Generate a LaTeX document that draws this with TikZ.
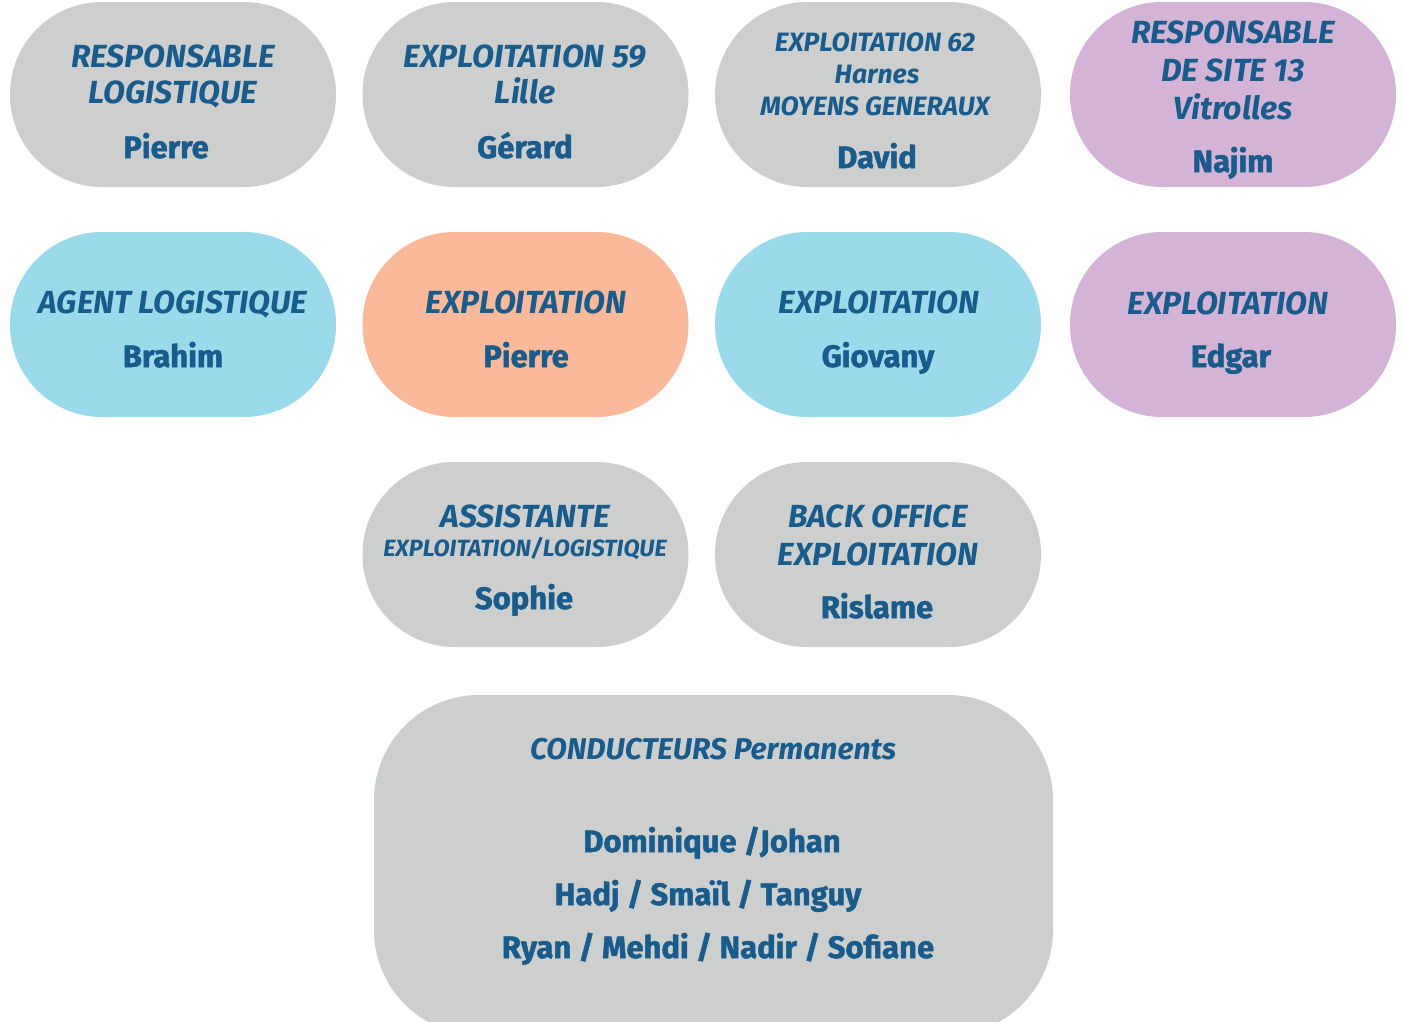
\documentclass[tikz,border=0pt]{standalone}
\usepackage{fontspec}
\setmainfont{Fira Sans}
\newfontfamily\namefont[BoldFeatures={FakeBold=1.6}]{Fira Sans}
\definecolor{boxgray}{HTML}{CDCFCF}
\definecolor{boxblue}{HTML}{9BDAEA}
\definecolor{boxorange}{HTML}{F9B99A}
\definecolor{boxpurple}{HTML}{D3B4D6}
\definecolor{txtblue}{HTML}{195B8B}
\begin{document}
\begin{tikzpicture}[x=1pt,y=-1pt,
  pill/.style={rounded corners=92pt,inner sep=0pt,minimum width=326pt,minimum height=185pt,draw=none},
  ttl/.style={text=txtblue,font=\fontsize{32}{34}\selectfont\bfseries\itshape,inner sep=0pt,anchor=base,yshift=-11pt},
  sttl/.style={text=txtblue,font=\fontsize{26.5}{28}\selectfont\bfseries\itshape,inner sep=0pt,anchor=base,yshift=-9pt},
  xsttl/.style={text=txtblue,font=\fontsize{23.5}{25}\selectfont\bfseries\itshape,inner sep=0pt,anchor=base,yshift=-8pt},
  cttl/.style={text=txtblue,font=\fontsize{30}{32}\selectfont\bfseries\itshape,inner sep=0pt,anchor=base,yshift=-10.5pt},
  nm/.style={text=txtblue,font=\fontsize{31}{33}\selectfont\namefont\bfseries,inner sep=0pt,anchor=base,yshift=-11pt}]
\useasboundingbox (0,0) rectangle (1405,1021);
% row 1
\node[pill,fill=boxgray] (b1) at (173,94.5) {};
\node[pill,fill=boxgray] (b2) at (525.5,94.5) {};
\node[pill,fill=boxgray] (b3) at (878,94.5) {};
\node[pill,fill=boxpurple] (b4) at (1233,94.5) {};
% row 2
\node[pill,fill=boxblue] (c1) at (173,324.5) {};
\node[pill,fill=boxorange] (c2) at (525.5,324.5) {};
\node[pill,fill=boxblue] (c3) at (878,324.5) {};
\node[pill,fill=boxpurple] (c4) at (1233,324.5) {};
% row 3
\node[pill,fill=boxgray] (d2) at (525.5,554.5) {};
\node[pill,fill=boxgray] (d3) at (878,554.5) {};
% big box
\node[rounded corners=105pt,inner sep=0pt,minimum width=679pt,minimum height=340pt,fill=boxgray] (e) at (713.5,865) {};

% texts row 1
\node[ttl] (b1a) at (173,56) {RESPONSABLE};
\node[ttl] (b1b) at (173,92) {LOGISTIQUE};
\node[nm] (b1c) at (166,147) {Pierre};
\node[ttl] (b2a) at (525,56) {EXPLOITATION 59};
\node[ttl] (b2b) at (525,92) {Lille};
\node[nm] (b2c) at (525,147) {Gérard};
\node[sttl] (b3a) at (875,42) {EXPLOITATION 62};
\node[sttl] (b3b) at (877,74) {Harnes};
\node[sttl] (b3c) at (875,106) {MOYENS GENERAUX};
\node[nm] (b3d) at (877,157) {David};
\node[ttl] (b4a) at (1233,32) {RESPONSABLE};
\node[ttl] (b4b) at (1233,70) {DE SITE 13};
\node[ttl] (b4c) at (1233,108) {Vitrolles};
\node[nm] (b4d) at (1233,161) {Najim};
% texts row 2
\node[ttl] (c1a) at (173,302) {AGENT LOGISTIQUE};
\node[nm] (c1b) at (173,356) {Brahim};
\node[ttl] (c2a) at (526,302) {EXPLOITATION};
\node[nm] (c2b) at (526,356) {Pierre};
\node[ttl] (c3a) at (879,302) {EXPLOITATION};
\node[nm] (c3b) at (878,356) {Giovany};
\node[ttl] (c4a) at (1228,303) {EXPLOITATION};
\node[nm] (c4b) at (1231,356) {Edgar};
% texts row 3
\node[ttl] (d2a) at (525,516) {ASSISTANTE};
\node[xsttl] (d2b) at (525,548) {EXPLOITATION/LOGISTIQUE};
\node[nm] (d2c) at (524,598) {Sophie};
\node[ttl] (d3a) at (878,516) {BACK OFFICE};
\node[ttl] (d3b) at (878,554) {EXPLOITATION};
\node[nm] (d3c) at (877,607) {Rislame};
% big box texts
\node[cttl] (ea) at (713,749) {CONDUCTEURS Permanents};
\node[nm] (eb) at (712,841) {Dominique /Johan};
\node[nm] (ec) at (708,894) {Hadj / Smaïl / Tanguy};
\node[nm] (ed) at (718,947) {Ryan / Mehdi / Nadir / Sofiane};
\end{tikzpicture}
\end{document}
